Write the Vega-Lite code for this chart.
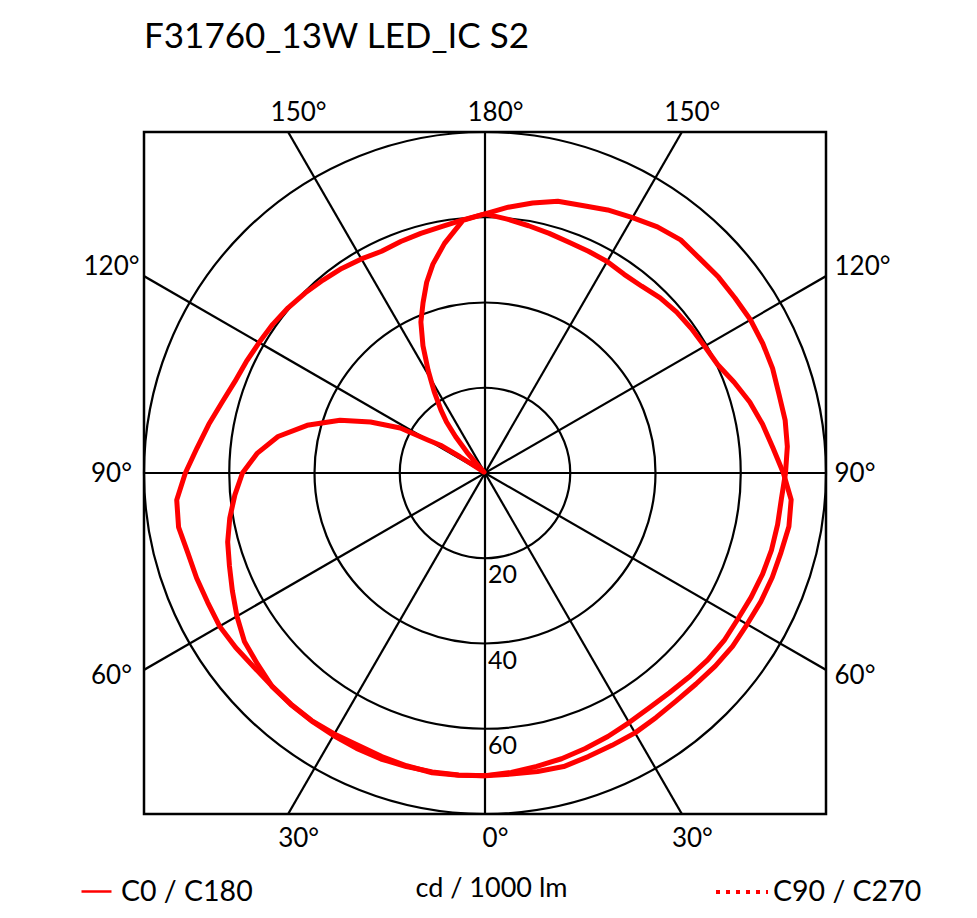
{
  "$schema": "https://vega.github.io/schema/vega-lite/v6.json",
  "width": 682,
  "height": 682,
  "autosize": "none",
  "padding": {"left": 144, "top": 132, "right": 151, "bottom": 104},
  "background": "white",
  "title": {"text": "F31760_13W LED_IC S2", "anchor": "start", "frame": "group", "fontSize": 35, "font": "Lato", "fontWeight": "normal", "color": "black", "offset": 44},
  "config": {
    "font": "Lato",
    "view": {"stroke": "black", "strokeWidth": 2.5},
    "axis": {"labelFont": "Lato", "titleFont": "Lato", "labelColor": "black", "titleColor": "black", "domain": false, "ticks": false, "tickSize": 0, "grid": false, "labelFontSize": 26, "labelFlush": false, "labelOverlap": false},
    "legend": {"labelFont": "Lato", "labelFontSize": 28.5, "labelColor": "black", "title": null, "orient": "none", "symbolType": "stroke", "labelOffset": 8, "padding": 0}
  },
  "datasets": {
    "rings": [{"r": 20}, {"r": 40}, {"r": 60}, {"r": 80}],
    "spokes": [{"deg": 0}, {"deg": 30}, {"deg": 60}, {"deg": 90}, {"deg": 120}, {"deg": 150}],
    "curves": [
      {"plane": "C0 / C180", "angle": -180, "cd": 60.8},
      {"plane": "C0 / C180", "angle": -175, "cd": 59.5},
      {"plane": "C0 / C180", "angle": -170, "cd": 54.7},
      {"plane": "C0 / C180", "angle": -166, "cd": 50.5},
      {"plane": "C0 / C180", "angle": -163, "cd": 46.8},
      {"plane": "C0 / C180", "angle": -160, "cd": 42.5},
      {"plane": "C0 / C180", "angle": -157, "cd": 38.5},
      {"plane": "C0 / C180", "angle": -154, "cd": 33.2},
      {"plane": "C0 / C180", "angle": -151, "cd": 27.5},
      {"plane": "C0 / C180", "angle": -148, "cd": 22.5},
      {"plane": "C0 / C180", "angle": -145, "cd": 18.0},
      {"plane": "C0 / C180", "angle": -143, "cd": 15.0},
      {"plane": "C0 / C180", "angle": -141, "cd": 11.0},
      {"plane": "C0 / C180", "angle": -139, "cd": 6.5},
      {"plane": "C0 / C180", "angle": -137, "cd": 2.0},
      {"plane": "C0 / C180", "angle": -134, "cd": 0.5},
      {"plane": "C0 / C180", "angle": -130, "cd": 0.3},
      {"plane": "C0 / C180", "angle": -126, "cd": 0.5},
      {"plane": "C0 / C180", "angle": -124, "cd": 2.0},
      {"plane": "C0 / C180", "angle": -123, "cd": 7.0},
      {"plane": "C0 / C180", "angle": -122, "cd": 12.3},
      {"plane": "C0 / C180", "angle": -120, "cd": 15.5},
      {"plane": "C0 / C180", "angle": -118, "cd": 22.5},
      {"plane": "C0 / C180", "angle": -114, "cd": 29.4},
      {"plane": "C0 / C180", "angle": -110, "cd": 36.2},
      {"plane": "C0 / C180", "angle": -105, "cd": 43.2},
      {"plane": "C0 / C180", "angle": -100, "cd": 49.3},
      {"plane": "C0 / C180", "angle": -95, "cd": 53.6},
      {"plane": "C0 / C180", "angle": -90, "cd": 56.9},
      {"plane": "C0 / C180", "angle": -85, "cd": 58.9},
      {"plane": "C0 / C180", "angle": -80, "cd": 60.8},
      {"plane": "C0 / C180", "angle": -75, "cd": 62.5},
      {"plane": "C0 / C180", "angle": -70, "cd": 63.8},
      {"plane": "C0 / C180", "angle": -65, "cd": 65.4},
      {"plane": "C0 / C180", "angle": -60, "cd": 67.2},
      {"plane": "C0 / C180", "angle": -55, "cd": 68.9},
      {"plane": "C0 / C180", "angle": -50, "cd": 69.7},
      {"plane": "C0 / C180", "angle": -45, "cd": 70.7},
      {"plane": "C0 / C180", "angle": -40, "cd": 70.9},
      {"plane": "C0 / C180", "angle": -35, "cd": 71.0},
      {"plane": "C0 / C180", "angle": -30, "cd": 71.1},
      {"plane": "C0 / C180", "angle": -25, "cd": 71.3},
      {"plane": "C0 / C180", "angle": -20, "cd": 71.4},
      {"plane": "C0 / C180", "angle": -15, "cd": 71.3},
      {"plane": "C0 / C180", "angle": -10, "cd": 71.2},
      {"plane": "C0 / C180", "angle": -5, "cd": 71.1},
      {"plane": "C0 / C180", "angle": 0, "cd": 71.0},
      {"plane": "C0 / C180", "angle": 5, "cd": 70.5},
      {"plane": "C0 / C180", "angle": 10, "cd": 69.9},
      {"plane": "C0 / C180", "angle": 15, "cd": 69.4},
      {"plane": "C0 / C180", "angle": 20, "cd": 68.8},
      {"plane": "C0 / C180", "angle": 25, "cd": 68.2},
      {"plane": "C0 / C180", "angle": 30, "cd": 67.6},
      {"plane": "C0 / C180", "angle": 35, "cd": 67.2},
      {"plane": "C0 / C180", "angle": 40, "cd": 67.3},
      {"plane": "C0 / C180", "angle": 45, "cd": 67.7},
      {"plane": "C0 / C180", "angle": 50, "cd": 68.2},
      {"plane": "C0 / C180", "angle": 55, "cd": 68.5},
      {"plane": "C0 / C180", "angle": 60, "cd": 68.5},
      {"plane": "C0 / C180", "angle": 65, "cd": 68.9},
      {"plane": "C0 / C180", "angle": 70, "cd": 69.3},
      {"plane": "C0 / C180", "angle": 75, "cd": 69.6},
      {"plane": "C0 / C180", "angle": 80, "cd": 69.7},
      {"plane": "C0 / C180", "angle": 85, "cd": 69.8},
      {"plane": "C0 / C180", "angle": 90, "cd": 70.5},
      {"plane": "C0 / C180", "angle": 95, "cd": 71.2},
      {"plane": "C0 / C180", "angle": 100, "cd": 71.5},
      {"plane": "C0 / C180", "angle": 105, "cd": 71.4},
      {"plane": "C0 / C180", "angle": 110, "cd": 71.8},
      {"plane": "C0 / C180", "angle": 115, "cd": 71.9},
      {"plane": "C0 / C180", "angle": 120, "cd": 71.9},
      {"plane": "C0 / C180", "angle": 125, "cd": 71.6},
      {"plane": "C0 / C180", "angle": 130, "cd": 71.5},
      {"plane": "C0 / C180", "angle": 135, "cd": 71.2},
      {"plane": "C0 / C180", "angle": 140, "cd": 71.4},
      {"plane": "C0 / C180", "angle": 145, "cd": 70.5},
      {"plane": "C0 / C180", "angle": 150, "cd": 69.2},
      {"plane": "C0 / C180", "angle": 155, "cd": 68.1},
      {"plane": "C0 / C180", "angle": 160, "cd": 66.8},
      {"plane": "C0 / C180", "angle": 165, "cd": 66.0},
      {"plane": "C0 / C180", "angle": 170, "cd": 64.3},
      {"plane": "C0 / C180", "angle": 175, "cd": 62.6},
      {"plane": "C0 / C180", "angle": 180, "cd": 60.8},
      {"plane": "C90 / C270", "angle": -180, "cd": 60.8},
      {"plane": "C90 / C270", "angle": -175, "cd": 59.6},
      {"plane": "C90 / C270", "angle": -170, "cd": 58.7},
      {"plane": "C90 / C270", "angle": -165, "cd": 58.2},
      {"plane": "C90 / C270", "angle": -160, "cd": 57.8},
      {"plane": "C90 / C270", "angle": -155, "cd": 57.4},
      {"plane": "C90 / C270", "angle": -150, "cd": 58.0},
      {"plane": "C90 / C270", "angle": -145, "cd": 58.6},
      {"plane": "C90 / C270", "angle": -140, "cd": 59.1},
      {"plane": "C90 / C270", "angle": -135, "cd": 59.7},
      {"plane": "C90 / C270", "angle": -130, "cd": 60.3},
      {"plane": "C90 / C270", "angle": -125, "cd": 60.8},
      {"plane": "C90 / C270", "angle": -120, "cd": 61.2},
      {"plane": "C90 / C270", "angle": -115, "cd": 61.8},
      {"plane": "C90 / C270", "angle": -110, "cd": 62.5},
      {"plane": "C90 / C270", "angle": -105, "cd": 63.9},
      {"plane": "C90 / C270", "angle": -100, "cd": 65.8},
      {"plane": "C90 / C270", "angle": -95, "cd": 67.8},
      {"plane": "C90 / C270", "angle": -90, "cd": 70.3},
      {"plane": "C90 / C270", "angle": -85, "cd": 72.6},
      {"plane": "C90 / C270", "angle": -80, "cd": 73.0},
      {"plane": "C90 / C270", "angle": -75, "cd": 72.2},
      {"plane": "C90 / C270", "angle": -70, "cd": 72.0},
      {"plane": "C90 / C270", "angle": -65, "cd": 71.8},
      {"plane": "C90 / C270", "angle": -60, "cd": 71.9},
      {"plane": "C90 / C270", "angle": -55, "cd": 71.4},
      {"plane": "C90 / C270", "angle": -50, "cd": 70.8},
      {"plane": "C90 / C270", "angle": -45, "cd": 70.7},
      {"plane": "C90 / C270", "angle": -40, "cd": 70.8},
      {"plane": "C90 / C270", "angle": -35, "cd": 70.9},
      {"plane": "C90 / C270", "angle": -30, "cd": 70.7},
      {"plane": "C90 / C270", "angle": -25, "cd": 70.5},
      {"plane": "C90 / C270", "angle": -20, "cd": 70.8},
      {"plane": "C90 / C270", "angle": -15, "cd": 71.1},
      {"plane": "C90 / C270", "angle": -10, "cd": 71.4},
      {"plane": "C90 / C270", "angle": -5, "cd": 71.2},
      {"plane": "C90 / C270", "angle": 0, "cd": 71.0},
      {"plane": "C90 / C270", "angle": 5, "cd": 70.9},
      {"plane": "C90 / C270", "angle": 10, "cd": 71.1},
      {"plane": "C90 / C270", "angle": 15, "cd": 71.3},
      {"plane": "C90 / C270", "angle": 20, "cd": 70.8},
      {"plane": "C90 / C270", "angle": 25, "cd": 70.5},
      {"plane": "C90 / C270", "angle": 30, "cd": 70.4},
      {"plane": "C90 / C270", "angle": 35, "cd": 70.0},
      {"plane": "C90 / C270", "angle": 40, "cd": 69.8},
      {"plane": "C90 / C270", "angle": 45, "cd": 70.0},
      {"plane": "C90 / C270", "angle": 50, "cd": 70.5},
      {"plane": "C90 / C270", "angle": 55, "cd": 70.9},
      {"plane": "C90 / C270", "angle": 60, "cd": 71.0},
      {"plane": "C90 / C270", "angle": 65, "cd": 71.4},
      {"plane": "C90 / C270", "angle": 70, "cd": 71.7},
      {"plane": "C90 / C270", "angle": 75, "cd": 71.9},
      {"plane": "C90 / C270", "angle": 80, "cd": 72.4},
      {"plane": "C90 / C270", "angle": 85, "cd": 72.1},
      {"plane": "C90 / C270", "angle": 90, "cd": 70.0},
      {"plane": "C90 / C270", "angle": 95, "cd": 67.8},
      {"plane": "C90 / C270", "angle": 100, "cd": 66.1},
      {"plane": "C90 / C270", "angle": 105, "cd": 64.3},
      {"plane": "C90 / C270", "angle": 110, "cd": 62.2},
      {"plane": "C90 / C270", "angle": 115, "cd": 60.2},
      {"plane": "C90 / C270", "angle": 120, "cd": 59.5},
      {"plane": "C90 / C270", "angle": 125, "cd": 59.1},
      {"plane": "C90 / C270", "angle": 130, "cd": 58.7},
      {"plane": "C90 / C270", "angle": 135, "cd": 58.1},
      {"plane": "C90 / C270", "angle": 140, "cd": 57.2},
      {"plane": "C90 / C270", "angle": 145, "cd": 56.9},
      {"plane": "C90 / C270", "angle": 150, "cd": 57.3},
      {"plane": "C90 / C270", "angle": 155, "cd": 57.4},
      {"plane": "C90 / C270", "angle": 160, "cd": 57.6},
      {"plane": "C90 / C270", "angle": 165, "cd": 58.2},
      {"plane": "C90 / C270", "angle": 170, "cd": 58.9},
      {"plane": "C90 / C270", "angle": 175, "cd": 59.8},
      {"plane": "C90 / C270", "angle": 180, "cd": 60.8}
    ]
  },
  "layer": [
    {
      "data": {"name": "rings"},
      "mark": {"type": "arc", "theta": 0, "theta2": 6.3, "filled": false, "color": "black", "strokeWidth": 2.2},
      "encoding": {
        "radius": {"field": "r", "type": "quantitative", "stack": null, "scale": {"type": "linear", "domain": [0, 80], "range": [0, 341], "zero": true}}
      }
    },
    {
      "data": {"name": "spokes"},
      "transform": [
        {"calculate": "120 * sin(datum.deg * PI / 180)", "as": "xa"},
        {"calculate": "-120 * cos(datum.deg * PI / 180)", "as": "ya"},
        {"calculate": "-datum.xa", "as": "xb"},
        {"calculate": "-datum.ya", "as": "yb"}
      ],
      "mark": {"type": "rule", "clip": true, "color": "black", "strokeWidth": 2.2},
      "encoding": {
        "x": {"field": "xa", "type": "quantitative", "scale": {"domain": [-80, 80], "nice": false, "zero": false},
              "axis": {"orient": "top", "values": [-46.19, 0, 46.19], "labelExpr": "datum.value == 0 ? '180°' : '150°'", "labelPadding": 7, "labelOffset": 10, "title": null}},
        "y": {"field": "ya", "type": "quantitative", "scale": {"domain": [-80, 80], "nice": false, "zero": false},
              "axis": {"orient": "right", "values": [48.5, 0, -47.5], "labelExpr": "datum.value > 1 ? '120°' : (datum.value < -1 ? '60°' : '90°')", "labelAlign": "left", "labelBaseline": "middle", "labelPadding": 8, "title": null}},
        "x2": {"field": "xb"},
        "y2": {"field": "yb"}
      }
    },
    {
      "data": {"name": "curves"},
      "transform": [
        {"filter": "datum.plane == 'C0 / C180'"},
        {"calculate": "datum.cd * sin(datum.angle * PI / 180)", "as": "px"},
        {"calculate": "-datum.cd * cos(datum.angle * PI / 180)", "as": "py"}
      ],
      "mark": {"type": "line", "strokeWidth": 5, "strokeJoin": "round"},
      "encoding": {
        "x": {"field": "px", "type": "quantitative", "scale": {"domain": [-80, 80], "nice": false, "zero": false},
              "axis": {"orient": "bottom", "values": [-46.19, 0, 46.19], "labelExpr": "datum.value == 0 ? '0°' : '30°'", "labelPadding": 11, "labelOffset": 10, "title": "cd / 1000 lm", "titleFontSize": 27, "titleFontWeight": "normal", "titlePadding": 24, "titleX": 347}},
        "y": {"field": "py", "type": "quantitative", "scale": {"domain": [-80, 80], "nice": false, "zero": false},
              "axis": {"orient": "left", "values": [48.5, 0, -47.5], "labelExpr": "datum.value > 1 ? '120°' : (datum.value < -1 ? '60°' : '90°')", "labelAlign": "center", "labelBaseline": "middle", "labelPadding": 33, "title": null}},
        "order": {"field": "angle", "type": "quantitative"},
        "color": {"field": "plane", "type": "nominal", "scale": {"range": ["#ff0000"]},
                  "legend": {"legendX": -64, "legendY": 743, "symbolSize": 900, "symbolStrokeWidth": 2.5}}
      }
    },
    {
      "data": {"name": "curves"},
      "transform": [
        {"filter": "datum.plane == 'C90 / C270'"},
        {"calculate": "datum.cd * sin(datum.angle * PI / 180)", "as": "px"},
        {"calculate": "-datum.cd * cos(datum.angle * PI / 180)", "as": "py"}
      ],
      "mark": {"type": "line", "color": "#ff0000", "strokeWidth": 5, "strokeJoin": "round"},
      "encoding": {
        "x": {"field": "px", "type": "quantitative", "axis": null},
        "y": {"field": "py", "type": "quantitative", "axis": null},
        "order": {"field": "angle", "type": "quantitative"}
      }
    },
    {
      "data": {"name": "curves"},
      "transform": [
        {"filter": "datum.plane == 'C90 / C270' && datum.cd < 0"},
        {"calculate": "datum.cd * sin(datum.angle * PI / 180)", "as": "px"},
        {"calculate": "-datum.cd * cos(datum.angle * PI / 180)", "as": "py"}
      ],
      "mark": {"type": "line", "color": "#ff0000", "strokeWidth": 3.5},
      "encoding": {
        "x": {"field": "px", "type": "quantitative", "axis": null},
        "y": {"field": "py", "type": "quantitative", "axis": null},
        "order": {"field": "angle", "type": "quantitative"},
        "strokeDash": {"field": "plane", "type": "nominal", "scale": {"domain": ["C90 / C270"], "range": [[4, 6]]},
                       "legend": {"legendX": 570, "legendY": 732, "labelOffset": 3, "symbolSize": 2704, "symbolStrokeWidth": 4, "symbolStrokeColor": "#ff0000"}}
      }
    },
    {
      "data": {"name": "rings"},
      "transform": [
        {"filter": "datum.r < 80"},
        {"calculate": "-datum.r", "as": "ny"}
      ],
      "mark": {"type": "text", "align": "left", "baseline": "top", "dx": 3, "dy": 5, "fontSize": 25, "font": "Lato", "color": "black"},
      "encoding": {
        "x": {"datum": 0, "type": "quantitative", "axis": null},
        "y": {"field": "ny", "type": "quantitative", "axis": null},
        "text": {"field": "r", "type": "quantitative"}
      }
    }
  ],
  "resolve": {"axis": {"x": "independent", "y": "independent"}}
}
